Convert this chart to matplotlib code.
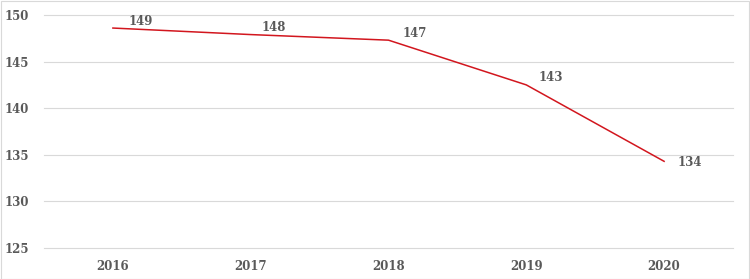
import matplotlib.pyplot as plt
from matplotlib.patches import Rectangle

# Chart data
years = ["2016", "2017", "2018", "2019", "2020"]
values = [148.6, 147.9, 147.3, 142.5, 134.3]
labels = ["149", "148", "147", "143", "134"]
# label offsets in points (dx, dy)
label_offsets = [(11, 5), (8, 5), (10, 5), (9, 5), (10, -1)]

text_color = "#595959"
grid_color = "#d9d9d9"

fig = plt.figure(figsize=(7.5, 2.79), dpi=100)
ax = fig.add_axes([44 / 750, 31 / 279, (733 - 44) / 750, (248 - 15) / 279])

x = list(range(len(years)))
ax.plot(x, values, color="#d2161e", linewidth=1.1)

for xi, v, lab, (dx, dy) in zip(x, values, labels, label_offsets):
    ax.annotate(lab, (xi, v), xytext=(dx, dy), textcoords="offset points",
                ha="left", va="center", fontsize=8.5, fontweight="bold",
                family="DejaVu Serif", color=text_color)

ax.set_xlim(-0.5, len(years) - 0.5)
ax.set_ylim(125, 150)
ax.set_yticks([125, 130, 135, 140, 145, 150])
ax.set_xticks(x)
ax.set_xticklabels(years)

for lbl in ax.get_xticklabels() + ax.get_yticklabels():
    lbl.set_family("DejaVu Serif")
    lbl.set_fontweight("bold")
    lbl.set_fontsize(8.5)
    lbl.set_color(text_color)

ax.tick_params(axis="both", length=0)
ax.tick_params(axis="x", pad=9)
ax.tick_params(axis="y", pad=11)
ax.grid(axis="y", color=grid_color, linewidth=0.8)
for gl in ax.get_ygridlines():
    gl.set_clip_on(False)
ax.set_axisbelow(True)
for s in ax.spines.values():
    s.set_visible(False)

# light border round the whole chart
fig.patches.append(Rectangle((0.5 / 750, 0.5 / 279), 1 - 1.5 / 750, 1 - 1.5 / 279,
                             transform=fig.transFigure, fill=False,
                             edgecolor="#d9d9d9", linewidth=0.8))

fig.savefig("out.png", dpi=100)
